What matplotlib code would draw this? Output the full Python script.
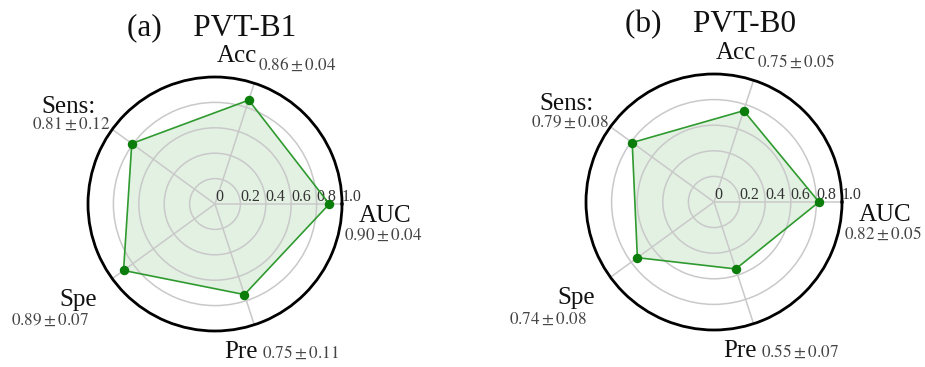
import numpy as np
import matplotlib
matplotlib.use("Agg")
import matplotlib.pyplot as plt

plt.rcParams['font.family'] = ['Liberation Serif', 'DejaVu Serif']
plt.rcParams['mathtext.fontset'] = 'stix'

# Metrics and cross-validation results for the two backbones
metrics = ['AUC', 'Acc', 'Sens:', 'Spe', 'Pre']
b1_mean = [0.90, 0.86, 0.81, 0.89, 0.75]
b1_std = [0.04, 0.04, 0.12, 0.07, 0.11]
b0_mean = [0.82, 0.75, 0.79, 0.74, 0.55]
b0_std = [0.05, 0.05, 0.08, 0.08, 0.07]
panel_titles = ['(a)    PVT-B1', '(b)    PVT-B0']
rticks = [0, 0.2, 0.4, 0.6, 0.8, 1.0]
rtick_labels = ['0', '0.2', '0.4', '0.6', '0.8', '1.0']

# Placement of metric names and their value strings, in units of the radius
# (x, y, horizontal alignment) relative to the plot centre
label_layout = {
    'AUC':   ((1.34, -0.145, 'center'), (1.32, -0.285, 'center')),
    'Acc':   ((0.016, 1.118, 'left'), (0.335, 1.055, 'left')),
    'Sens:': ((-1.15, 0.715, 'center'), (-1.13, 0.59, 'center')),
    'Spe':   ((-1.08, -0.80, 'center'), (-1.30, -0.95, 'center')),
    'Pre':   ((0.07, -1.21, 'left'), (0.37, -1.21, 'left')),
}

fig = plt.figure(figsize=(9.25, 3.67), dpi=100)
rects = [[88 / 925, 36 / 367, 254 / 925, 254 / 367],
         [586 / 925, 37 / 367, 256 / 925, 256 / 367]]

angles = np.linspace(0, 2 * np.pi, len(metrics), endpoint=False)


def radar(ax, means, stds, title):
    closed_a = np.append(angles, angles[0])
    closed_v = np.append(means, means[0])
    ax.fill(closed_a, closed_v, color='green', alpha=0.11, zorder=1, lw=0)
    ax.plot(closed_a, closed_v, color='#2f9a2f', lw=1.2, zorder=3)
    ax.plot(angles, means, 'o', color='#0b7d0b', ms=5.8, zorder=4)

    ax.set_ylim(0, 1)
    ax.set_yticks(rticks[1:])
    ax.set_yticklabels([])
    ax.set_xticks(angles)
    ax.set_xticklabels([])
    ax.tick_params(length=0)
    ax.grid(color='#c9c9c9', lw=1.1)
    ax.spines['polar'].set_linewidth(2.0)
    ax.spines['polar'].set_color('black')

    for r, lab in zip(rticks, rtick_labels):
        ax.annotate(lab, xy=(0, r), xytext=(0, 2), textcoords='offset points',
                    ha='left', va='baseline', fontsize=11.5, color='#333333',
                    zorder=2, annotation_clip=False)

    for name, m, s in zip(metrics, means, stds):
        (nx, ny, nha), (vx, vy, vha) = label_layout[name]
        ax.text(0.5 + nx / 2, 0.5 + ny / 2, name, transform=ax.transAxes,
                ha=nha, va='baseline', fontsize=18, color='#111111')
        ax.text(0.5 + vx / 2, 0.5 + vy / 2, r'$%.2f\pm%.2f$' % (m, s),
                transform=ax.transAxes, ha=vha, va='baseline',
                fontsize=12.3, color='#444444')

    ax.text(0.5 - 0.015, 0.5 + 1.33 / 2, title, transform=ax.transAxes,
            ha='center', va='baseline', fontsize=22.5, color='#111111')


for rect, means, stds, title in zip(rects, [b1_mean, b0_mean],
                                    [b1_std, b0_std], panel_titles):
    ax = fig.add_axes(rect, projection='polar')
    radar(ax, means, stds, title)

fig.savefig('out.png', dpi=100)
